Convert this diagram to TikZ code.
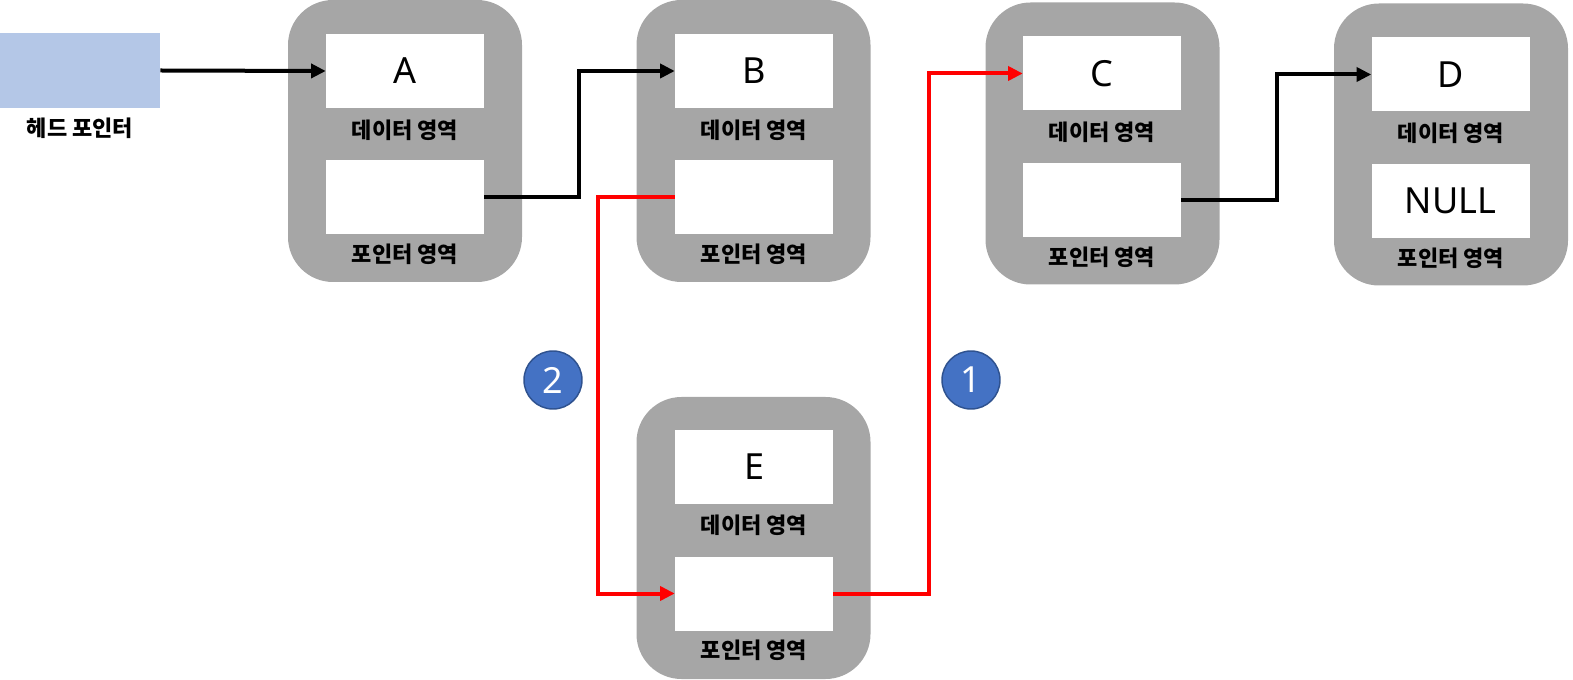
\documentclass[tikz,border=0pt]{standalone}
\usepackage{fontspec}
\setmainfont{Noto Sans}
\newfontfamily\krfont{Noto Sans CJK KR}
\usetikzlibrary{arrows.meta}

\definecolor{cellgray}{HTML}{A6A6A6}
\definecolor{headblue}{HTML}{B4C7E7}
\definecolor{badgeblue}{HTML}{4472C4}
\definecolor{badgeline}{HTML}{2F528F}

\newcommand{\arealabel}{\krfont\bfseries\fontsize{16.5pt}{19pt}\selectfont}
\newcommand{\slotlabel}{\fontsize{27pt}{31pt}\selectfont}

\tikzstyle{cell} = [fill=cellgray, rectangle, rounded corners=33.75pt, minimum width=175.5pt, minimum height=211.5pt, inner sep=0pt]
\tikzstyle{slot} = [fill=white, rectangle, minimum width=118.5pt, minimum height=55.5pt, inner sep=0pt, font=\slotlabel]
\tikzstyle{area} = [inner sep=0pt, font=\arealabel]
\tikzstyle{link} = [line width=3pt, -{Triangle[length=11pt,width=10.5pt]}]
\tikzstyle{newlink} = [link, draw=red, color=red]
\tikzstyle{badge} = [circle, fill=badgeblue, draw=badgeline, line width=1.1pt, minimum size=43.5pt, inner sep=0pt, text=white, font=\slotlabel]

\begin{document}
\begin{tikzpicture}[x=0.75pt,y=-0.75pt]
            \useasboundingbox (0,0) rectangle (1573,680);
            %
            % The head pointer
            \node [fill=headblue, minimum width=120pt, minimum height=56.25pt, inner sep=0pt] (head) at (80,70.5) {};
            \node [area] (headlabel) at (80,128) {헤드 포인터};
            %
            % We place the list cells first
            \node [cell] (a) at (405,141) {};
            \node [slot] (adata) at (405,71) {A};
            \node [area] (adatalabel) at (405,130) {데이터 영역};
            \node [slot] (aptr) at (405,197.5) {};
            \node [area] (aptrlabel) at (405,254) {포인터 영역};
            %
            \node [cell] (b) at (753.5,141) {};
            \node [slot] (bdata) at (754,71) {B};
            \node [area] (bdatalabel) at (754,130) {데이터 영역};
            \node [slot] (bptr) at (754,197.5) {};
            \node [area] (bptrlabel) at (754,254) {포인터 영역};
            %
            \node [cell] (c) at (1102.5,143.5) {};
            \node [slot] (cdata) at (1102,73.5) {C};
            \node [area] (cdatalabel) at (1102,132) {데이터 영역};
            \node [slot] (cptr) at (1102,200) {};
            \node [area] (cptrlabel) at (1102,257) {포인터 영역};
            %
            \node [cell] (d) at (1451,144.5) {};
            \node [slot] (ddata) at (1450.5,74.5) {D};
            \node [area] (ddatalabel) at (1451,133) {데이터 영역};
            \node [slot] (dptr) at (1450.5,201) {NULL};
            \node [area] (dptrlabel) at (1451,258) {포인터 영역};
            %
            % The new cell goes below
            \node [cell] (e) at (753.5,538) {};
            \node [slot] (edata) at (754,467) {E};
            \node [area] (edatalabel) at (754,525) {데이터 영역};
            \node [slot] (eptr) at (754,593.5) {};
            \node [area] (eptrlabel) at (754,650) {포인터 영역};
            %
            % Order of the steps
            \node [badge] (one) at (971,380) {1};
            \node [badge] (two) at (553,380) {2};
            %
            % Where the connectors turn
            \coordinate (ab) at (579,0);
            \coordinate (be) at (598,0);
            \coordinate (ec) at (929,0);
            \coordinate (cd) at (1277,0);
            %
            % Once the nodes are placed, connecting them is easy.
            \draw [link] (head.east) -- (adata.west);
            \draw [link] (aptr.east) -- (aptr.east -| ab) |- (bdata.west);
            \draw [newlink] (bptr.west) -- (bptr.west -| be) |- (eptr.west);
            \draw [newlink] (eptr.east) -- (eptr.east -| ec) |- (cdata.west);
            \draw [link] (cptr.east) -- (cptr.east -| cd) |- (ddata.west);
            %
        \end{tikzpicture}
\end{document}
